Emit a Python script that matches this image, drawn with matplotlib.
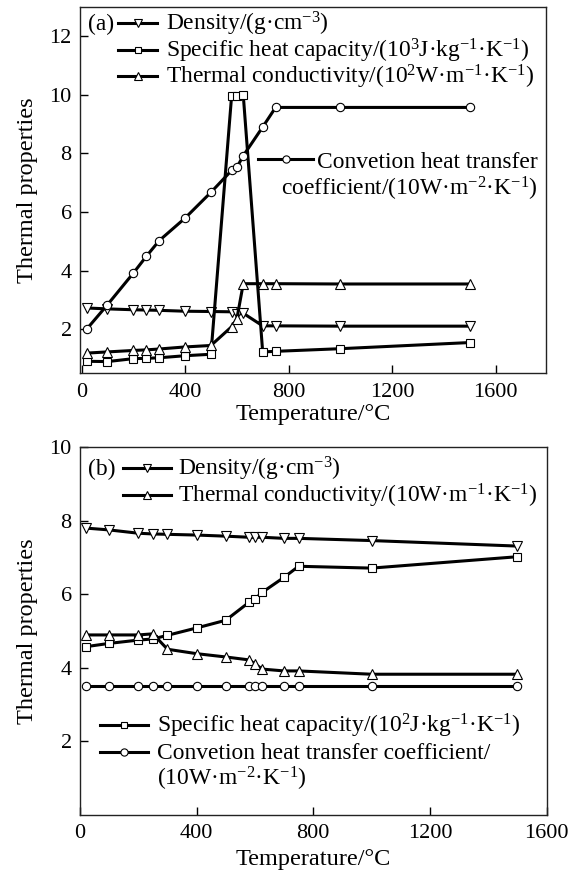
import matplotlib
matplotlib.use("Agg")
import matplotlib.pyplot as plt
from matplotlib.lines import Line2D

plt.rcParams["font.family"] = ["Liberation Serif", "DejaVu Serif"]
plt.rcParams["mathtext.fontset"] = "custom"
plt.rcParams["mathtext.rm"] = "Liberation Serif"
plt.rcParams["mathtext.it"] = "Liberation Serif:italic"
plt.rcParams["mathtext.bf"] = "Liberation Serif:bold"

# ---- (a) data ----
temp_a = [20, 100, 200, 250, 300, 400, 500, 580, 600, 625, 700, 750, 1000, 1500]
density_a = [2.72, 2.69, 2.66, 2.65, 2.64, 2.61, 2.60, 2.59, 2.50, 2.54, 2.11, 2.11, 2.10, 2.10]
cp_a = [0.90, 0.89, 0.99, 1.00, 1.02, 1.09, 1.14, 9.97, 9.97, 9.99, 1.22, 1.24, 1.33, 1.54]
k_a = [1.18, 1.22, 1.27, 1.29, 1.32, 1.39, 1.44, 2.08, 2.34, 3.55, 3.55, 3.55, 3.54, 3.54]
h_a = [2.00, 2.83, 3.91, 4.48, 5.02, 5.79, 6.67, 7.42, 7.52, 7.92, 8.90, 9.57, 9.57, 9.57]

# ---- (b) data ----
temp_b = [20, 100, 200, 250, 300, 400, 500, 580, 600, 625, 700, 750, 1000, 1500]
density_b = [7.80, 7.75, 7.66, 7.64, 7.63, 7.61, 7.58, 7.55, 7.55, 7.55, 7.52, 7.52, 7.46, 7.31]
cp_b = [4.57, 4.66, 4.75, 4.78, 4.88, 5.08, 5.29, 5.78, 5.87, 6.05, 6.46, 6.76, 6.71, 7.02]
k_b = [4.89, 4.89, 4.89, 4.92, 4.50, 4.38, 4.29, 4.21, 4.10, 3.96, 3.91, 3.91, 3.82, 3.82]
h_b = [3.50, 3.50, 3.50, 3.50, 3.50, 3.50, 3.50, 3.50, 3.50, 3.50, 3.50, 3.50, 3.50, 3.50]

xticks_a = [0, 400, 800, 1200, 1600]
yticks_a = [2, 4, 6, 8, 10, 12]
xticks_b = [0, 400, 800, 1200, 1600]
yticks_b = [2, 4, 6, 8, 10]

lbl_density = "Density/(g·cm$^{-3}$)"
lbl_cp_a = "Specific heat capacity/(10$^{3}$J·kg$^{-1}$·K$^{-1}$)"
lbl_k_a = "Thermal conductivity/(10$^{2}$W·m$^{-1}$·K$^{-1}$)"
lbl_h_a1 = "Convetion heat transfer"
lbl_h_a2 = "coefficient/(10W·m$^{-2}$·K$^{-1}$)"
lbl_k_b = "Thermal conductivity/(10W·m$^{-1}$·K$^{-1}$)"
lbl_cp_b = "Specific heat capacity/(10$^{2}$J·kg$^{-1}$·K$^{-1}$)"
lbl_h_b1 = "Convetion heat transfer coefficient/"
lbl_h_b2 = "(10W·m$^{-2}$·K$^{-1}$)"

W, H = 576, 872
LW = 2.2
FS = 16.9
LABEL_FS = 17.5
TICK_FS = 16

style = dict(color="black", lw=LW, mfc="white", mec="black", mew=0.8)
MS = {"v": 6.5, "s": 5.5, "^": 6.5, "o": 6.0}


class Frame:
    """Maps figure pixel positions (top-left origin) to axes fractions."""

    def __init__(self, left, top, right, bottom):
        self.l, self.t, self.r, self.b = left, top, right, bottom

    def rect(self):
        return [self.l / W, 1 - self.b / H, (self.r - self.l) / W, (self.b - self.t) / H]

    def fx(self, px):
        return (px - self.l) / (self.r - self.l)

    def fy(self, py):
        return (self.b - py) / (self.b - self.t)


def series(ax, x, y, marker):
    ax.plot(x, y, marker=marker, ms=MS[marker], zorder=3, **style)


def text_row(ax, fr, px, py, s, **kw):
    # py is the vertical middle of the capitals; baseline sits ~7 px lower
    ax.text(fr.fx(px), fr.fy(py + 7.5), s, transform=ax.transAxes, fontsize=FS,
            va="baseline", **kw)


def key(ax, fr, x0, x1, py, marker, text=None, tx=None):
    xa, xb = fr.fx(x0), fr.fx(x1)
    y = fr.fy(py)
    ax.add_line(Line2D([xa, (xa + xb) / 2, xb], [y, y, y], transform=ax.transAxes,
                       marker=marker, markevery=[1], ms=MS[marker] - 0.8,
                       clip_on=False, **style))
    if text:
        text_row(ax, fr, tx, py, text)


def style_axes(ax):
    for s in ax.spines.values():
        s.set_linewidth(1.0)
        s.set_color("#222222")
    ax.tick_params(direction="in", length=6, width=1.0, labelsize=TICK_FS,
                   top=False, right=False)
    ax.tick_params(axis="x", pad=7)
    ax.tick_params(axis="y", pad=6)


fig = plt.figure(figsize=(W / 100, H / 100), dpi=100)

# ---------------- panel (a) ----------------
fa = Frame(80, 7, 546, 373)
ax1 = fig.add_axes(fa.rect())
series(ax1, temp_a, density_a, "v")
series(ax1, temp_a, cp_a, "s")
series(ax1, temp_a, k_a, "^")
series(ax1, temp_a, h_a, "o")
ax1.set_xlim(-6, 1795)
ax1.set_ylim(0.5, 13)
ax1.set_xticks(xticks_a)
ax1.set_yticks(yticks_a)
style_axes(ax1)
ax1.set_xlabel("Temperature/°C", fontsize=LABEL_FS)
ax1.set_ylabel("Thermal properties", fontsize=LABEL_FS)
ax1.xaxis.set_label_coords(0.5, fa.fy(404))
ax1.yaxis.set_label_coords(fa.fx(38), 0.5)

text_row(ax1, fa, 88, 23, "(a)")
key(ax1, fa, 118, 157, 23, "v", lbl_density, 166)
key(ax1, fa, 118, 157, 50, "s", lbl_cp_a, 166)
key(ax1, fa, 118, 157, 76, "^", lbl_k_a, 166)
key(ax1, fa, 258, 313, 159, "o")
text_row(ax1, fa, 538, 160, lbl_h_a1, ha="right")
text_row(ax1, fa, 538, 188, lbl_h_a2, ha="right")

# ---------------- panel (b) ----------------
fb = Frame(80, 447.3, 546.5, 814.5)
ax2 = fig.add_axes(fb.rect())
series(ax2, temp_b, density_b, "v")
series(ax2, temp_b, cp_b, "s")
series(ax2, temp_b, k_b, "^")
series(ax2, temp_b, h_b, "o")
ax2.set_xlim(0, 1600)
ax2.set_ylim(0, 10)
ax2.set_xticks(xticks_b)
ax2.set_yticks(yticks_b)
style_axes(ax2)
ax2.set_xlabel("Temperature/°C", fontsize=LABEL_FS)
ax2.set_ylabel("Thermal properties", fontsize=LABEL_FS)
ax2.xaxis.set_label_coords(0.5, fb.fy(849))
ax2.yaxis.set_label_coords(fb.fx(38), 0.5)

text_row(ax2, fb, 88, 468, "(b)")
key(ax2, fb, 123, 171, 468, "v", lbl_density, 178)
key(ax2, fb, 123, 171, 495, "^", lbl_k_b, 178)
key(ax2, fb, 100, 148, 725, "s", lbl_cp_b, 157)
key(ax2, fb, 100, 148, 751.7, "o", lbl_h_b1, 157)
text_row(ax2, fb, 157, 778, lbl_h_b2)

fig.savefig("out.png", dpi=100)
